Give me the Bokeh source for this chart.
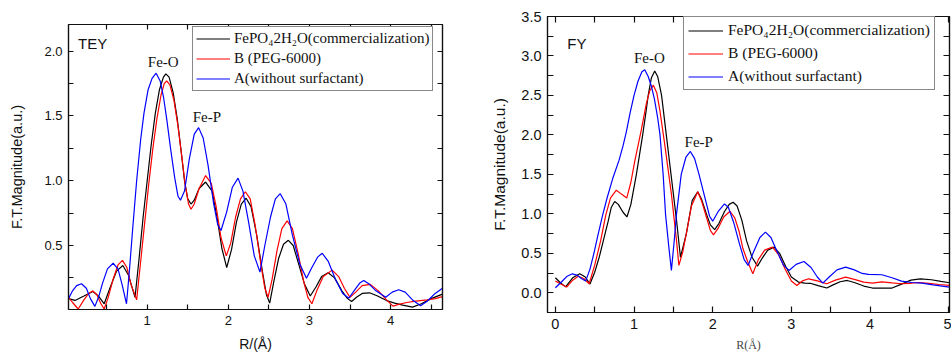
from bokeh.plotting import figure
from bokeh.layouts import row
from bokeh.models import (FixedTicker, LinearAxis, Range1d, Label, CustomJSTickFormatter,
                          Legend, LegendItem)
from bokeh.embed import file_html
from bokeh.resources import INLINE

# ---------------- data ----------------
legend_labels = ["FePO\u20842H\u2082O(commercialization)", "B (PEG-6000)", "A(without surfactant)"]
series_colors = ["#000000", "#ff0000", "#0000ff"]

tey_black = [(0.03,0.09),(0.11,0.076),(0.22,0.11),(0.33,0.145),(0.40,0.11),(0.47,0.05),(0.54,0.17),(0.62,0.30),
             (0.70,0.346),(0.77,0.27),(0.85,0.10),(0.90,0.40),(0.95,0.72),(1.00,1.00),(1.05,1.28),(1.10,1.52),
             (1.15,1.70),(1.20,1.80),(1.23,1.825),(1.27,1.80),(1.32,1.68),(1.37,1.48),(1.42,1.22),(1.46,1.00),
             (1.50,0.86),(1.54,0.82),(1.58,0.85),(1.64,0.94),(1.72,0.99),(1.80,0.92),(1.86,0.72),(1.92,0.48),
             (1.98,0.33),(2.04,0.47),(2.10,0.68),(2.16,0.82),(2.22,0.865),(2.28,0.80),(2.35,0.58),(2.42,0.30),
             (2.47,0.12),(2.51,0.055),(2.56,0.22),(2.62,0.40),(2.68,0.51),(2.74,0.54),(2.80,0.50),(2.87,0.35),
             (2.94,0.20),(3.01,0.11),(3.08,0.18),(3.15,0.26),(3.23,0.29),(3.31,0.25),(3.40,0.15),(3.47,0.09),
             (3.52,0.068),(3.58,0.10),(3.65,0.13),(3.74,0.135),(3.84,0.11),(3.95,0.075),(4.05,0.055),(4.15,0.04),
             (4.27,0.024),(4.38,0.05),(4.50,0.09),(4.64,0.125)]

tey_red = [(0.03,0.10),(0.08,0.06),(0.15,0.01),(0.22,0.08),(0.28,0.13),(0.33,0.15),(0.38,0.12),(0.43,0.05),
           (0.47,0.01),(0.52,0.10),(0.58,0.24),(0.64,0.35),(0.695,0.385),(0.75,0.33),(0.80,0.20),(0.87,0.08),
           (0.92,0.38),(0.97,0.68),(1.02,0.98),(1.07,1.25),(1.12,1.48),(1.17,1.66),(1.21,1.75),(1.24,1.77),
           (1.28,1.74),(1.33,1.62),(1.38,1.42),(1.43,1.17),(1.47,0.96),(1.51,0.82),(1.54,0.78),(1.58,0.82),
           (1.64,0.94),(1.72,1.04),(1.79,0.98),(1.85,0.80),(1.91,0.56),(1.975,0.42),(2.03,0.52),(2.09,0.72),
           (2.15,0.86),(2.21,0.915),(2.27,0.86),(2.33,0.66),(2.40,0.36),(2.45,0.17),(2.49,0.10),(2.54,0.24),
           (2.60,0.46),(2.66,0.63),(2.725,0.69),(2.79,0.63),(2.86,0.44),(2.93,0.22),(2.98,0.10),(3.03,0.05),
           (3.09,0.15),(3.17,0.26),(3.28,0.31),(3.36,0.26),(3.43,0.17),(3.50,0.10),(3.57,0.14),(3.65,0.19),
           (3.75,0.20),(3.85,0.15),(3.95,0.08),(4.03,0.032),(4.10,0.045),(4.20,0.06),(4.31,0.07),(4.45,0.08),
           (4.55,0.09),(4.64,0.105)]

tey_blue = [(0.03,0.09),(0.08,0.15),(0.13,0.19),(0.19,0.205),(0.25,0.17),(0.30,0.09),(0.355,0.03),(0.40,0.10),
            (0.45,0.21),(0.51,0.32),(0.58,0.363),(0.64,0.32),(0.69,0.20),(0.745,0.05),(0.78,0.30),(0.82,0.62),
            (0.87,1.00),(0.92,1.32),(0.96,1.52),(1.01,1.70),(1.06,1.79),(1.11,1.83),(1.16,1.77),(1.20,1.65),
            (1.24,1.48),(1.29,1.24),(1.34,1.02),(1.38,0.88),(1.41,0.85),(1.46,0.92),(1.52,1.17),(1.58,1.36),
            (1.634,1.41),(1.69,1.33),(1.75,1.12),(1.82,0.82),(1.87,0.66),(1.91,0.616),(1.98,0.76),(2.05,0.95),
            (2.12,1.02),(2.18,0.92),(2.25,0.68),(2.32,0.42),(2.39,0.295),(2.45,0.50),(2.52,0.72),(2.58,0.86),
            (2.64,0.90),(2.71,0.82),(2.79,0.58),(2.88,0.36),(2.963,0.248),(3.03,0.33),(3.10,0.41),(3.157,0.44),
            (3.23,0.38),(3.32,0.24),(3.41,0.13),(3.485,0.093),(3.56,0.16),(3.62,0.21),(3.67,0.23),(3.74,0.20),
            (3.82,0.15),(3.94,0.10),(4.02,0.14),(4.10,0.158),(4.18,0.14),(4.27,0.08),(4.37,0.035),(4.45,0.07),
            (4.55,0.13),(4.64,0.17)]

fy_black = [(0.0,0.19),(0.06,0.13),(0.13,0.075),(0.22,0.19),(0.31,0.24),(0.38,0.20),(0.44,0.11),(0.50,0.26),
            (0.56,0.46),(0.61,0.66),(0.67,0.90),(0.71,1.08),(0.754,1.156),(0.80,1.12),(0.86,1.02),(0.91,0.96),
            (0.96,1.12),(1.03,1.50),(1.07,1.75),(1.11,2.00),(1.15,2.28),(1.18,2.50),(1.22,2.72),(1.263,2.81),
            (1.30,2.74),(1.35,2.50),(1.41,2.00),(1.47,1.50),(1.54,0.92),(1.59,0.45),(1.665,0.75),(1.74,1.17),
            (1.81,1.28),(1.86,1.18),(1.92,1.00),(1.97,0.86),(2.025,0.80),(2.08,0.88),(2.15,1.03),(2.21,1.12),
            (2.26,1.147),(2.31,1.10),(2.37,0.92),(2.43,0.66),(2.50,0.45),(2.57,0.337),(2.63,0.44),(2.70,0.54),
            (2.78,0.578),(2.85,0.50),(2.93,0.33),(3.00,0.20),(3.09,0.135),(3.17,0.122),(3.24,0.12),(3.34,0.09),
            (3.45,0.06),(3.53,0.10),(3.62,0.14),(3.71,0.156),(3.80,0.13),(3.92,0.085),(4.03,0.06),(4.15,0.058),
            (4.28,0.06),(4.40,0.11),(4.52,0.16),(4.64,0.177),(4.78,0.165),(4.90,0.145),(5.01,0.127)]

fy_red = [(0.0,0.148),(0.07,0.11),(0.144,0.072),(0.22,0.16),(0.29,0.21),(0.36,0.18),(0.43,0.114),(0.50,0.35),
          (0.576,0.66),(0.64,0.98),(0.70,1.20),(0.775,1.30),(0.84,1.25),(0.907,1.20),(0.96,1.40),(1.01,1.67),
          (1.09,2.05),(1.157,2.40),(1.20,2.56),(1.246,2.63),(1.29,2.53),(1.33,2.30),(1.39,1.88),(1.475,1.25),
          (1.54,0.66),(1.57,0.346),(1.62,0.52),(1.665,0.75),(1.73,1.10),(1.81,1.28),(1.86,1.16),(1.92,0.96),
          (1.97,0.79),(2.01,0.734),(2.07,0.82),(2.14,0.96),(2.22,1.033),(2.28,0.95),(2.335,0.78),(2.385,0.557),
          (2.45,0.38),(2.51,0.24),(2.58,0.42),(2.66,0.54),(2.76,0.578),(2.84,0.48),(2.92,0.30),(3.00,0.15),
          (3.07,0.093),(3.14,0.15),(3.22,0.177),(3.33,0.15),(3.45,0.114),(3.56,0.16),(3.69,0.198),(3.80,0.17),
          (3.92,0.135),(4.03,0.122),(4.15,0.139),(4.28,0.125),(4.40,0.114),(4.50,0.12),(4.61,0.13),(4.75,0.12),
          (4.88,0.105),(5.01,0.093)]

fy_blue = [(0.0,0.063),(0.08,0.14),(0.15,0.21),(0.216,0.24),(0.28,0.22),(0.33,0.18),(0.385,0.148),(0.44,0.30),
           (0.49,0.50),(0.534,0.70),(0.60,0.98),(0.66,1.21),(0.73,1.45),(0.81,1.68),(0.86,1.86),(0.90,2.03),
           (0.95,2.28),(1.00,2.50),(1.05,2.68),(1.10,2.80),(1.136,2.826),(1.18,2.74),(1.22,2.62),(1.26,2.45),
           (1.30,2.22),(1.33,2.00),(1.37,1.50),(1.40,1.00),(1.44,0.60),(1.475,0.283),(1.51,0.65),(1.54,1.00),
           (1.60,1.50),(1.66,1.72),(1.716,1.79),(1.77,1.70),(1.826,1.50),(1.92,1.13),(1.96,0.97),(2.00,0.907),
           (2.07,1.03),(2.15,1.126),(2.20,1.08),(2.27,0.88),(2.34,0.62),(2.40,0.42),(2.45,0.346),(2.52,0.52),
           (2.60,0.70),(2.67,0.768),(2.74,0.70),(2.82,0.52),(2.90,0.35),(2.97,0.283),(3.06,0.36),(3.16,0.396),
           (3.25,0.32),(3.33,0.20),(3.40,0.122),(3.48,0.20),(3.58,0.29),(3.69,0.325),(3.80,0.29),(3.90,0.245),
           (3.98,0.232),(4.15,0.228),(4.28,0.19),(4.40,0.148),(4.53,0.13),(4.66,0.122),(4.80,0.10),(5.01,0.072)]

tey_x_ticks = [0.5, 1.0, 1.5, 2.0, 2.5, 3.0, 3.5, 4.0, 4.5]
tey_y_ticks = [0.25, 0.5, 0.75, 1.0, 1.25, 1.5, 1.75, 2.0]
fy_x_ticks = [0.0, 0.5, 1.0, 1.5, 2.0, 2.5, 3.0, 3.5, 4.0, 4.5, 5.0]
fy_y_ticks = [0.0, 0.25, 0.5, 0.75, 1.0, 1.25, 1.5, 1.75, 2.0, 2.25, 2.5, 2.75, 3.0, 3.25, 3.5]

X_FMT = "return Math.abs(tick - Math.round(tick)) < 1e-6 ? Math.round(tick).toString() : '';"
Y_FMT = "return Math.abs(tick*2 - Math.round(tick*2)) < 1e-6 ? tick.toFixed(1) : '';"
BLANK = "return '';"

SANS = "Liberation Sans"
SERIF = "Liberation Serif"
INK = "#111111"


def style_axis(ax, ticks, code, size, standoff, tick_len):
    ax.ticker = FixedTicker(ticks=ticks)
    ax.formatter = CustomJSTickFormatter(code=code)
    ax.major_tick_in = tick_len
    ax.major_tick_out = 0
    ax.minor_tick_in = 0
    ax.minor_tick_out = 0
    ax.major_label_text_font = SANS
    ax.major_label_text_font_size = size
    ax.major_label_text_color = INK
    ax.major_label_standoff = standoff
    ax.axis_line_color = INK
    ax.axis_line_width = 1.2
    ax.major_tick_line_color = INK
    ax.major_tick_line_width = 1.2


def make_panel(data, xr, yr, fw, fh, borders, xticks, yticks, tick_size, tick_len,
               ylab_size, xlab, xlab_font, xlab_size, xlab_color, xlab_standoff, ylab_standoff,
               legend_loc, legend_cfg):
    left, right, top, bottom = borders
    p = figure(frame_width=fw, frame_height=fh, x_range=Range1d(*xr), y_range=Range1d(*yr),
               output_backend="svg", toolbar_location=None,
               x_axis_location=None, y_axis_location=None,
               min_border_left=left, min_border_right=right, min_border_top=top, min_border_bottom=bottom)
    p.frame_align = False
    p.xgrid.visible = False
    p.ygrid.visible = False
    p.outline_line_color = INK
    p.outline_line_width = 1.2
    p.background_fill_color = "white"
    p.border_fill_color = "white"

    items = []
    for pts, color, lab in zip(data, series_colors, legend_labels):
        xs = [a for a, b in pts]
        ys = [b for a, b in pts]
        r = p.line(xs, ys, line_color=color, line_width=1.2)
        items.append(LegendItem(label=lab, renderers=[r]))

    xb = LinearAxis()
    style_axis(xb, xticks, X_FMT, tick_size, 6, tick_len)
    xb.axis_label = xlab
    xb.axis_label_text_font = xlab_font
    xb.axis_label_text_font_style = "normal"
    xb.axis_label_text_font_size = xlab_size
    xb.axis_label_text_color = xlab_color
    xb.axis_label_standoff = xlab_standoff
    p.add_layout(xb, "below")

    yl = LinearAxis()
    style_axis(yl, yticks, Y_FMT, tick_size, 6, tick_len)
    yl.axis_label = "F.T.Magnitude(a.u.)"
    yl.axis_label_text_font = SANS
    yl.axis_label_text_font_style = "normal"
    yl.axis_label_text_font_size = ylab_size
    yl.axis_label_text_color = INK
    yl.axis_label_standoff = ylab_standoff
    p.add_layout(yl, "left")

    xt = LinearAxis()
    style_axis(xt, xticks, BLANK, "1px", 0, tick_len)
    p.add_layout(xt, "above")
    yr_ax = LinearAxis()
    style_axis(yr_ax, yticks, BLANK, "1px", 0, tick_len)
    p.add_layout(yr_ax, "right")

    lg = Legend(items=items, location=legend_loc, margin=0,
                border_line_color=INK, border_line_width=1.2,
                background_fill_color="white", background_fill_alpha=1.0,
                label_text_font=SERIF, label_text_color=INK, **legend_cfg)
    p.add_layout(lg)
    return p


p1 = make_panel([tey_black, tey_red, tey_blue], (0.03, 4.64), (0.006, 2.206), 374, 285,
                (68, 34, 24, 48), tey_x_ticks, tey_y_ticks, "13px", 5,
                "14.5px", "R/(\u00c5)", SANS, "14px", INK, 8, 16,
                (124, 218),
                dict(label_text_font_size="15px", padding=3, spacing=3, label_height=17,
                     glyph_height=17, glyph_width=34, label_standoff=4))

p2 = make_panel([fy_black, fy_red, fy_blue], (-0.1, 5.01), (-0.25, 3.5), 402, 296,
                (71, 2, 16, 45), fy_x_ticks, fy_y_ticks, "14.5px", 6,
                "15.5px", "R(\u00c5)", SERIF, "12px", "#444444", 6, 10,
                (136, 222),
                dict(label_text_font_size="15.5px", padding=4, spacing=5, label_height=17,
                     glyph_height=17, glyph_width=35, label_standoff=5))

# annotations
for p, notes in (
    (p1, [("TEY", 0.148, 2.061, SANS, "left"), ("Fe-O", 1.198, 1.92, SERIF, "center"),
          ("Fe-P", 1.735, 1.495, SERIF, "center")]),
    (p2, [("FY", 0.152, 3.16, SANS, "left"), ("Fe-O", 1.194, 2.98, SERIF, "center"),
          ("Fe-P", 1.823, 1.906, SERIF, "center")]),
):
    for txt, x, y, font, align in notes:
        p.add_layout(Label(x=x, y=y, text=txt, text_font=font, text_font_size="15px",
                           text_color=INK, text_align=align, text_baseline="middle"))

layout = row(p1, p2)
open("out.html", "w").write(file_html(layout, INLINE))
